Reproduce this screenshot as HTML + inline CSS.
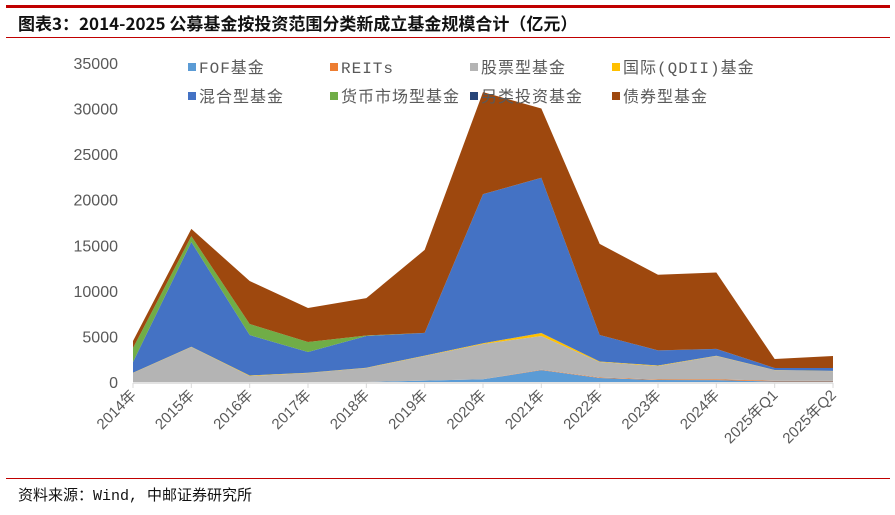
<!DOCTYPE html>
<html><head><meta charset="utf-8"><style>
body{margin:0;width:895px;height:510px;background:#fff;overflow:hidden;font-family:"Liberation Sans","Noto Sans CJK SC",sans-serif;}
</style></head><body>
<svg width="895" height="510">
<rect x="6" y="5" width="884" height="3" fill="#C00000"/>
<text x="18" y="30" font-size="17" font-weight="bold" fill="#111" font-family="'Noto Sans CJK SC',sans-serif">图表3：2014-2025 公募基金按投资范围分类新成立基金规模合计（亿元）</text>
<rect x="6" y="37" width="884" height="1" fill="#C00000"/>
<g id="axes"></g>
<g id="areas"></g>
<g id="legend"></g>
<rect x="6" y="478" width="884" height="1" fill="#C00000"/>
<text x="18" y="500" font-size="15" fill="#111" font-family="'Liberation Mono','Noto Sans CJK SC',monospace">资料来源：Wind, 中邮证券研究所</text>
</svg>
<script>
const categories=["2014年","2015年","2016年","2017年","2018年","2019年","2020年","2021年","2022年","2023年","2024年","2025年Q1","2025年Q2"];
const seriesNames=["FOF基金","REITs","股票型基金","国际(QDII)基金","混合型基金","货币市场型基金","另类投资基金","债券型基金"];
const seriesColors=["#5B9BD5","#ED7D31","#B4B4B4","#FFC000","#4472C4","#70AD47","#264478","#9E480E"];
const fof=[0,0,0,0,0,150,300,1300,440,220,200,50,50];
const reits=[0,0,0,0,0,0,0,50,50,60,100,80,80];
const stock=[990,3840,660,990,1540,2700,3870,3700,1700,1470,2550,1170,1070];
const qdii=[20,30,60,30,30,50,80,330,60,60,30,20,20];
const mixed=[1180,11490,4430,2270,3480,2480,16350,17020,2900,1650,740,220,320];
const money=[1540,640,1210,1100,50,0,0,0,0,0,0,0,0];
const other=[0,0,0,0,0,10,10,10,10,10,10,0,0];
const bond=[770,800,4720,3730,4100,9100,11200,7600,9990,8300,8380,980,1310];
const yTicks=[0,5000,10000,15000,20000,25000,30000,35000];
const series=[fof,reits,stock,qdii,mixed,money,other,bond];
const NS="http://www.w3.org/2000/svg";
const x0=133,x1=833,yb=382,yt=63,ymax=35000;
const X=i=>x0+(x1-x0)*i/(categories.length-1);
const Y=v=>yb-(yb-yt)*v/ymax;
function mk(t,a,p){const e=document.createElementNS(NS,t);for(const k in a)e.setAttribute(k,a[k]);p.appendChild(e);return e;}
const axes=document.getElementById('axes'),areas=document.getElementById('areas'),leg=document.getElementById('legend');
yTicks.forEach(v=>{const t=mk('text',{x:118,y:Y(v)+6,'text-anchor':'end','font-size':16,fill:'#595959'},axes);t.textContent=v;

});
const base=categories.map(()=>0);
series.forEach((s,si)=>{
 const top=s.map((v,i)=>base[i]+v);
 let d='M'+top.map((v,i)=>X(i)+','+Y(v)).join(' L');
 for(let i=categories.length-1;i>=0;i--)d+=' L'+X(i)+','+Y(base[i]);
 const p=mk('path',{d:d+'Z',fill:seriesColors[si]},areas);
 
 
 top.forEach((v,i)=>base[i]=v);
});
const ax=mk('line',{x1:x0,x2:x1,y1:yb+1,y2:yb+1,stroke:'#D9D9D9','stroke-width':1.5},axes);


categories.forEach((c,i)=>{
 const tk=mk('line',{x1:X(i),x2:X(i),y1:yb+1,y2:yb+6,stroke:'#D9D9D9'},axes);
 
 
 const t=mk('text',{x:X(i)+4,y:yb+14,'text-anchor':'end','font-size':15,fill:'#595959',transform:'rotate(-45 '+(X(i)+4)+' '+(yb+14)+')'},axes);
 t.textContent=c;
 
 
});
const lx=[188,330,470,612];
seriesNames.forEach((n,i)=>{
 const x=lx[i%4],y=i<4?68:97;
 const r=mk('rect',{x:x,y:y-5,width:8,height:8,fill:seriesColors[i]},leg);
 
 
 const t=mk('text',{x:x+11,y:y+5,'font-size':16,fill:'#595959','letter-spacing':1,'font-family':"'Liberation Mono','Noto Sans CJK SC',monospace"},leg);
 t.textContent=n;
 
 
});
</script>
</body></html>
